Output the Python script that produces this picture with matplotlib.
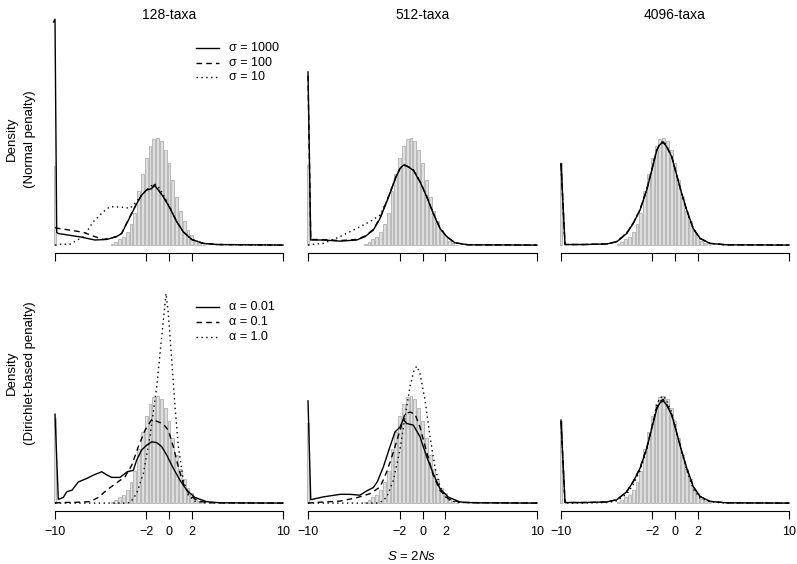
import numpy as np
import matplotlib
matplotlib.use("Agg")
import matplotlib.pyplot as plt
from matplotlib.lines import Line2D

plt.rcParams['font.family'] = ['Liberation Sans', 'DejaVu Sans']
plt.rcParams['mathtext.fontset'] = 'custom'
plt.rcParams['mathtext.it'] = 'Liberation Sans:italic'
plt.rcParams['mathtext.rm'] = 'Liberation Sans'

W, H = 797, 564
FS = 9

taxa = ['128-taxa', '512-taxa', '4096-taxa']
row_labels = [('Density', '(Normal penalty)'), ('Density', '(Dirichlet-based penalty)')]
sigma_labels = ['σ = 1000', 'σ = 100', 'σ = 10']
alpha_labels = ['α = 0.01', 'α = 0.1', 'α = 1.0']
xticks = [-10, -2, 0, 2, 10]
xticklabels = ['\u221210', '\u22122', '0', '2', '10']

# histogram of true values (bin width 1/3), same in every panel
bin_w = 1 / 3
hist_x = [-5.0, -4.667, -4.333, -4.0, -3.667, -3.333, -3.0, -2.667, -2.333, -2.0,
          -1.667, -1.333, -1.0, -0.667, -0.333, 0.0, 0.333, 0.667, 1.0, 1.333,
          1.667, 2.0, 2.333, 2.667, 3.0]
hist_y = [0.004, 0.01, 0.02, 0.03, 0.045, 0.075, 0.112, 0.19, 0.25, 0.307,
          0.35, 0.374, 0.378, 0.367, 0.335, 0.29, 0.232, 0.171, 0.12, 0.085,
          0.052, 0.034, 0.016, 0.006, 0.002]
# bar sitting at the lower bound (-10), per panel [row][col]
hist_edge = [[0.28, 0.285, 0.29], [0.30, 0.285, 0.29]]

# ---- Normal penalty, 128 taxa
n128_s1000_x = [-10.12, -10.0, -9.85, -9.71, -7.8, -6.5, -5.46, -4.6, -4.15, -3.86, -3.42,
                -2.83, -2.4, -1.96, -1.52, -1.29, -0.94, -0.5, 0.09, 0.67, 1.25, 1.99,
                3.0, 4.2, 10]
n128_s1000_y = [0.79, 0.8, 0.045, 0.041, 0.029, 0.018, 0.02, 0.03, 0.041, 0.065, 0.1,
                0.147, 0.177, 0.195, 0.2, 0.212, 0.195, 0.171, 0.13, 0.083, 0.047, 0.02,
                0.006, 0.002, 0]
n128_s100_x = [-10.0, -9.85, -9.7, -8.68, -7.5, -6.5, -5.76, -4.88, -4.5, -4.15, -3.86,
               -3.42, -2.83, -2.4, -1.96, -1.52, -1.29, -0.94, -0.5, 0.09, 0.67, 1.25,
               1.99, 3.0, 4.2, 10]
n128_s100_y = [0.062, 0.06, 0.059, 0.053, 0.045, 0.03, 0.02, 0.027, 0.032, 0.042, 0.066,
               0.101, 0.148, 0.178, 0.196, 0.201, 0.213, 0.196, 0.172, 0.131, 0.084, 0.047,
               0.02, 0.006, 0.002, 0]
n128_s10_x = [-10.0, -9.6, -8.7, -7.5, -6.64, -5.76, -5.18, -4.0, -3.42, -2.83, -2.25,
              -1.67, -1.29, -0.8, -0.5, 0.09, 0.67, 1.25, 1.99, 3.0, 4.2, 10]
n128_s10_y = [0.0, 0.003, 0.003, 0.03, 0.083, 0.118, 0.136, 0.134, 0.13, 0.155, 0.183,
              0.206, 0.218, 0.2, 0.178, 0.133, 0.084, 0.047, 0.02, 0.006, 0.002, 0]

# ---- Normal penalty, 512 taxa
n512_s1000_x = [-10.0, -9.76, -8.66, -7.2, -5.75, -5.02, -4.3, -3.71, -3.13, -2.69, -2.31,
                -1.97, -1.67, -1.38, -0.8, -0.22, 0.37, 0.94, 1.53, 2.11, 2.84, 4.0, 10]
n512_s1000_y = [0.613, 0.018, 0.018, 0.014, 0.018, 0.03, 0.053, 0.094, 0.153, 0.2, 0.242,
                0.27, 0.283, 0.28, 0.265, 0.224, 0.171, 0.112, 0.059, 0.03, 0.008, 0.001, 0]
n512_s100_y = [0.6, 0.02, 0.019, 0.016, 0.02, 0.032, 0.055, 0.096, 0.155, 0.201, 0.243,
               0.271, 0.284, 0.281, 0.266, 0.225, 0.172, 0.113, 0.06, 0.03, 0.008, 0.001, 0]
n512_s10_x = [-10.0, -9.8, -8.66, -7.2, -5.75, -4.6, -3.71, -3.13, -2.69, -2.31, -1.97,
              -1.67, -1.38, -0.8, -0.22, 0.37, 0.94, 1.53, 2.11, 2.84, 4.0, 10]
n512_s10_y = [0.0, 0.002, 0.006, 0.03, 0.059, 0.083, 0.106, 0.155, 0.202, 0.244, 0.272,
              0.285, 0.282, 0.267, 0.226, 0.173, 0.113, 0.06, 0.03, 0.008, 0.001, 0]

# ---- Normal penalty, 4096 taxa
n4096_x = [-10.0, -9.65, -8.0, -6.0, -5.1, -4.24, -3.66, -3.07, -2.48, -2.04, -1.6,
           -1.32, -1.03, -0.73, -0.29, 0.15, 0.59, 1.03, 1.6, 2.19, 3.07, 4.5, 10]
n4096_s1000_y = [0.289, 0.002, 0.002, 0.004, 0.012, 0.041, 0.077, 0.124, 0.195, 0.265,
                 0.336, 0.356, 0.364, 0.348, 0.313, 0.248, 0.183, 0.124, 0.059, 0.024,
                 0.006, 0.001, 0]
n4096_s100_y = [0.288, 0.002, 0.002, 0.004, 0.012, 0.042, 0.078, 0.125, 0.196, 0.266,
                0.337, 0.357, 0.365, 0.349, 0.313, 0.247, 0.182, 0.123, 0.058, 0.024,
                0.006, 0.001, 0]
n4096_s10_y = [0.285, 0.002, 0.002, 0.004, 0.013, 0.043, 0.079, 0.126, 0.197, 0.268,
               0.34, 0.36, 0.368, 0.351, 0.314, 0.247, 0.181, 0.122, 0.058, 0.024,
               0.006, 0.001, 0]

# ---- Dirichlet-based penalty, 128 taxa
d128_a001_x = [-10.0, -9.71, -9.27, -8.97, -8.5, -7.95, -7.22, -6.64, -5.9, -5.46, -5.03,
               -4.3, -3.66, -3.13, -2.84, -2.4, -1.96, -1.52, -1.08, -0.64, -0.2, 0.38,
               0.96, 1.55, 2.28, 3.3, 4.5, 10]
d128_a001_y = [0.315, 0.013, 0.02, 0.04, 0.046, 0.075, 0.087, 0.099, 0.111, 0.1, 0.091,
               0.091, 0.111, 0.116, 0.152, 0.188, 0.205, 0.217, 0.214, 0.2, 0.17, 0.123,
               0.081, 0.046, 0.02, 0.005, 0.001, 0]
d128_a01_x = [-10.0, -9.5, -8.0, -6.93, -6.2, -5.46, -4.59, -3.86, -3.27, -2.69, -2.1,
              -1.52, -1.08, -0.5, -0.06, 0.38, 0.82, 1.26, 1.84, 2.57, 3.5, 10]
d128_a01_y = [0.0, 0.002, 0.003, 0.005, 0.02, 0.046, 0.072, 0.093, 0.134, 0.2, 0.258,
              0.296, 0.29, 0.28, 0.258, 0.2, 0.128, 0.069, 0.027, 0.007, 0.001, 0]
d128_a1_x = [-10.0, -4.0, -3.4, -2.84, -2.25, -1.67, -1.08, -0.64, -0.26, -0.06, 0.24,
             0.53, 0.82, 1.26, 1.7, 2.28, 3.0, 10]
d128_a1_y = [0.0, 0.0, 0.002, 0.034, 0.105, 0.235, 0.412, 0.589, 0.742, 0.671, 0.506,
             0.341, 0.2, 0.081, 0.027, 0.007, 0.001, 0]

# ---- Dirichlet-based penalty, 512 taxa
d512_a001_x = [-10.0, -9.76, -8.66, -7.2, -6.33, -5.46, -4.88, -4.3, -3.95, -3.42, -2.84,
               -2.4, -1.97, -1.67, -1.38, -0.8, -0.22, 0.37, 0.94, 1.53, 2.26, 3.28, 4.5, 10]
d512_a001_y = [0.362, 0.012, 0.022, 0.031, 0.031, 0.028, 0.043, 0.055, 0.075, 0.128, 0.2,
               0.252, 0.269, 0.296, 0.282, 0.276, 0.235, 0.164, 0.104, 0.051, 0.021, 0.004,
               0.001, 0]
d512_a01_x = [-10.0, -9.0, -7.2, -5.75, -4.6, -3.7, -3.13, -2.55, -1.97, -1.53, -1.09,
              -0.66, -0.22, 0.37, 0.94, 1.53, 2.26, 3.3, 10]
d512_a01_y = [0.0, 0.003, 0.007, 0.019, 0.033, 0.057, 0.11, 0.18, 0.257, 0.317, 0.322,
              0.316, 0.269, 0.18, 0.098, 0.045, 0.015, 0.002, 0]
d512_a1_x = [-10.0, -4.0, -3.7, -3.13, -2.55, -1.97, -1.53, -1.09, -0.74, -0.5, -0.22,
             0.22, 0.66, 1.09, 1.53, 2.11, 3.0, 10]
d512_a1_y = [0.0, 0.0, 0.002, 0.021, 0.08, 0.188, 0.305, 0.412, 0.47, 0.485, 0.459,
             0.365, 0.234, 0.127, 0.057, 0.015, 0.002, 0]

# ---- Dirichlet-based penalty, 4096 taxa
d4096_x = [-10.0, -9.65, -8.0, -6.0, -5.1, -4.24, -3.66, -3.07, -2.48, -2.04, -1.6,
           -1.32, -1.03, -0.73, -0.29, 0.15, 0.59, 1.03, 1.6, 2.19, 3.07, 4.5, 10]
d4096_a001_y = [0.294, 0.002, 0.002, 0.004, 0.012, 0.04, 0.076, 0.123, 0.194, 0.264,
                0.334, 0.355, 0.362, 0.347, 0.312, 0.248, 0.183, 0.124, 0.059, 0.024,
                0.006, 0.001, 0]
d4096_a01_y = [0.29, 0.002, 0.002, 0.004, 0.012, 0.041, 0.077, 0.124, 0.196, 0.267,
               0.338, 0.36, 0.367, 0.35, 0.314, 0.249, 0.183, 0.123, 0.058, 0.023,
               0.006, 0.001, 0]
d4096_a1_y = [0.285, 0.0, 0.0, 0.002, 0.008, 0.032, 0.066, 0.115, 0.19, 0.268,
              0.348, 0.372, 0.38, 0.362, 0.322, 0.252, 0.18, 0.117, 0.05, 0.018,
              0.004, 0.0, 0]

curves = [
    [[(n128_s1000_x, n128_s1000_y), (n128_s100_x, n128_s100_y), (n128_s10_x, n128_s10_y)],
     [(n512_s1000_x, n512_s1000_y), (n512_s1000_x, n512_s100_y), (n512_s10_x, n512_s10_y)],
     [(n4096_x, n4096_s1000_y), (n4096_x, n4096_s100_y), (n4096_x, n4096_s10_y)]],
    [[(d128_a001_x, d128_a001_y), (d128_a01_x, d128_a01_y), (d128_a1_x, d128_a1_y)],
     [(d512_a001_x, d512_a001_y), (d512_a01_x, d512_a01_y), (d512_a1_x, d512_a1_y)],
     [(d4096_x, d4096_a001_y), (d4096_x, d4096_a01_y), (d4096_x, d4096_a1_y)]],
]
styles = [dict(ls='-'), dict(ls=(0, (4, 3))), dict(ls=(0, (1, 2.5)))]

# panel geometry in pixels: x of -10 and 10, axis line y
col_px = [(55, 283), (308, 537), (561, 789)]
row_axis_px = [253, 511]
ax_h = 244

fig = plt.figure(figsize=(W / 100, H / 100), dpi=100)

for r in range(2):
    for c in range(3):
        x0, x1 = col_px[c]
        s = (x1 - x0) / 20
        left = x0 - 0.8 * s
        width = 21.6 * s
        bottom = row_axis_px[r]
        ax = fig.add_axes([left / W, 1 - bottom / H, width / W, ax_h / H])
        ax.set_xlim(-10.8, 10.8)
        ax.set_ylim(-0.028, 0.836)

        bx = [-10.0] + hist_x
        by = [hist_edge[r][c]] + hist_y
        ax.bar(bx, by, width=bin_w * 0.75, color='#dedede', edgecolor='#b0b0b0',
               linewidth=0.6, zorder=1)

        for (cx, cy), st in zip(curves[r][c], styles):
            ax.plot(cx, cy, color='black', lw=1.0, zorder=3, **st)

        for sp in ['left', 'right', 'top']:
            ax.spines[sp].set_visible(False)
        ax.spines['bottom'].set_bounds(-10, 10)
        ax.spines['bottom'].set_linewidth(0.8)
        ax.set_xticks(xticks)
        ax.set_yticks([])
        ax.tick_params(axis='x', direction='out', length=5.8, width=0.8, pad=5,
                       labelsize=FS, labelbottom=(r == 1))
        if r == 1:
            ax.set_xticklabels(xticklabels)

# legends (no box), drawn in figure pixels
leg_rows = [[48, 62.5, 77], [307, 322, 337]]
for r, labels in enumerate([sigma_labels, alpha_labels]):
    for k, lab in enumerate(labels):
        y = 1 - leg_rows[r][k] / H
        fig.add_artist(Line2D([196 / W, 219 / W], [y, y], transform=fig.transFigure,
                              color='black', lw=1.0, **styles[k]))
        fig.text(229 / W, y, lab, ha='left', va='center', fontsize=FS)

for c in range(3):
    xc = (col_px[c][0] + col_px[c][1]) / 2
    fig.text(xc / W, 1 - 15 / H, taxa[c], ha='center', va='center', fontsize=FS + 1)

for r, yc in enumerate([139, 373]):
    fig.text(12 / W, 1 - yc / H, row_labels[r][0], ha='center', va='center',
             rotation=90, fontsize=FS + 0.5)
    fig.text(30 / W, 1 - yc / H, row_labels[r][1], ha='center', va='center',
             rotation=90, fontsize=FS + 0.5)

fig.text(412 / W, 1 - 556 / H, r'$S$ = 2$Ns$', ha='center', va='center', fontsize=FS + 0.5)

fig.savefig('out.png', dpi=100)
